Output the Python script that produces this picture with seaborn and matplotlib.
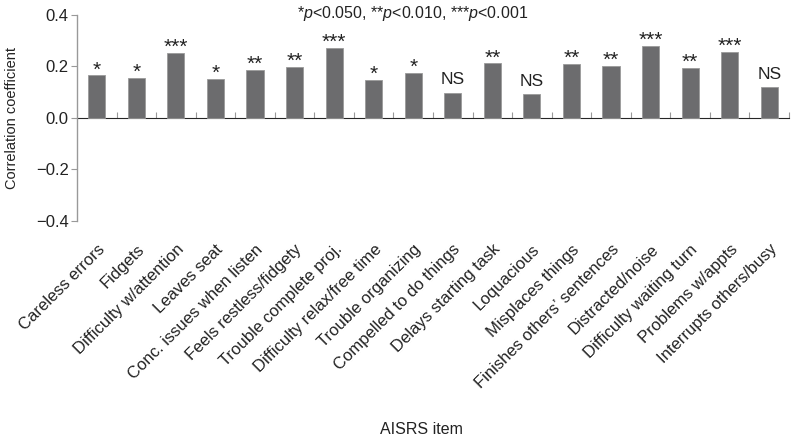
import matplotlib
matplotlib.use("Agg")
import matplotlib.pyplot as plt
import seaborn as sns
import pandas as pd
from matplotlib.ticker import FixedLocator, NullFormatter

items = ["Careless errors", "Fidgets", "Difficulty w/attention", "Leaves seat",
         "Conc. issues when listen", "Feels restless/fidgety", "Trouble complete proj.",
         "Difficulty relax/free time", "Trouble organizing", "Compelled to do things",
         "Delays starting task", "Loquacious", "Misplaces things",
         "Finishes others\u2019 sentences", "Distracted/noise", "Difficulty waiting turn",
         "Problems w/appts", "Interrupts others/busy"]
values = [0.165, 0.156, 0.252, 0.153, 0.186, 0.199, 0.272, 0.149, 0.176, 0.098,
          0.212, 0.092, 0.210, 0.203, 0.280, 0.195, 0.257, 0.119]
signif = ["*", "*", "***", "*", "**", "**", "***", "*", "*", "NS",
          "**", "NS", "**", "**", "***", "**", "***", "NS"]
yticks = [-0.4, -0.2, 0.0, 0.2, 0.4]

sns.set_style("white")
plt.rcParams["font.family"] = ["Liberation Sans", "DejaVu Sans"]
plt.rcParams["mathtext.fontset"] = "custom"
plt.rcParams["mathtext.it"] = "Liberation Sans:italic"
plt.rcParams["mathtext.rm"] = "Liberation Sans"

df = pd.DataFrame({"item": items, "r": values})

fig = plt.figure(figsize=(8, 4.41), dpi=100)
ax = fig.add_axes([0.09625, 0.499, 0.89, 0.467])
sns.barplot(data=df, x="item", y="r", color="#6c6c6e", width=0.43,
            edgecolor="#9a9a9a", linewidth=0.6, saturation=1, ax=ax)

ax.set_ylim(-0.4, 0.4)
ax.set_xlim(-0.5, len(items) - 0.5)
ax.set_yticks(yticks)
ax.set_yticklabels(["\u22120.4", "\u22120.2", "0.0", "0.2", "0.4"], fontsize=12, color="#222222")
ax.tick_params(axis="y", direction="out", length=4, width=0.8, color="#999999", pad=2, left=True)

for s in ["top", "right", "bottom"]:
    ax.spines[s].set_visible(False)
ax.spines["left"].set_color("#999999")
ax.spines["left"].set_linewidth(1.0)

ax.set_xticks(range(len(items)))
ax.set_xticklabels(items, rotation=45, ha="right", rotation_mode="anchor",
                   fontsize=12, color="#222222")
ax.tick_params(axis="x", length=0, pad=15)

# zero axis with boundary ticks
sec = ax.secondary_xaxis(0.5)
sec.xaxis.set_major_locator(FixedLocator([i + 0.5 for i in range(len(items))]))
sec.xaxis.set_major_formatter(NullFormatter())
sec.tick_params(axis="x", direction="out", length=4, width=0.8, color="#999999")
sec.spines["bottom"].set_color("#999999")
sec.spines["bottom"].set_linewidth(1.0)

for i, (v, s) in enumerate(zip(values, signif)):
    if s == "NS":
        ax.annotate(s, xy=(i, v), xytext=(0, 4), textcoords="offset points",
                    ha="center", va="bottom", fontsize=12.5, color="#222222")
    else:
        ax.annotate(s, xy=(i, v), xytext=(0, -3), textcoords="offset points",
                    ha="center", va="bottom", fontsize=15, color="#222222")

ax.text(0.472, 1.005, r"*$p$<0.050, **$p$<0.010, ***$p$<0.001",
        transform=ax.transAxes, ha="center", va="center", fontsize=11.5, color="#222222")

ax.set_ylabel("Correlation coefficient", fontsize=10.5, color="#222222", labelpad=12)
ax.set_xlabel("")
fig.text(0.527, 0.025, "AISRS item", ha="center", va="center", fontsize=11.5, color="#222222")

fig.savefig("out.png", dpi=100)
